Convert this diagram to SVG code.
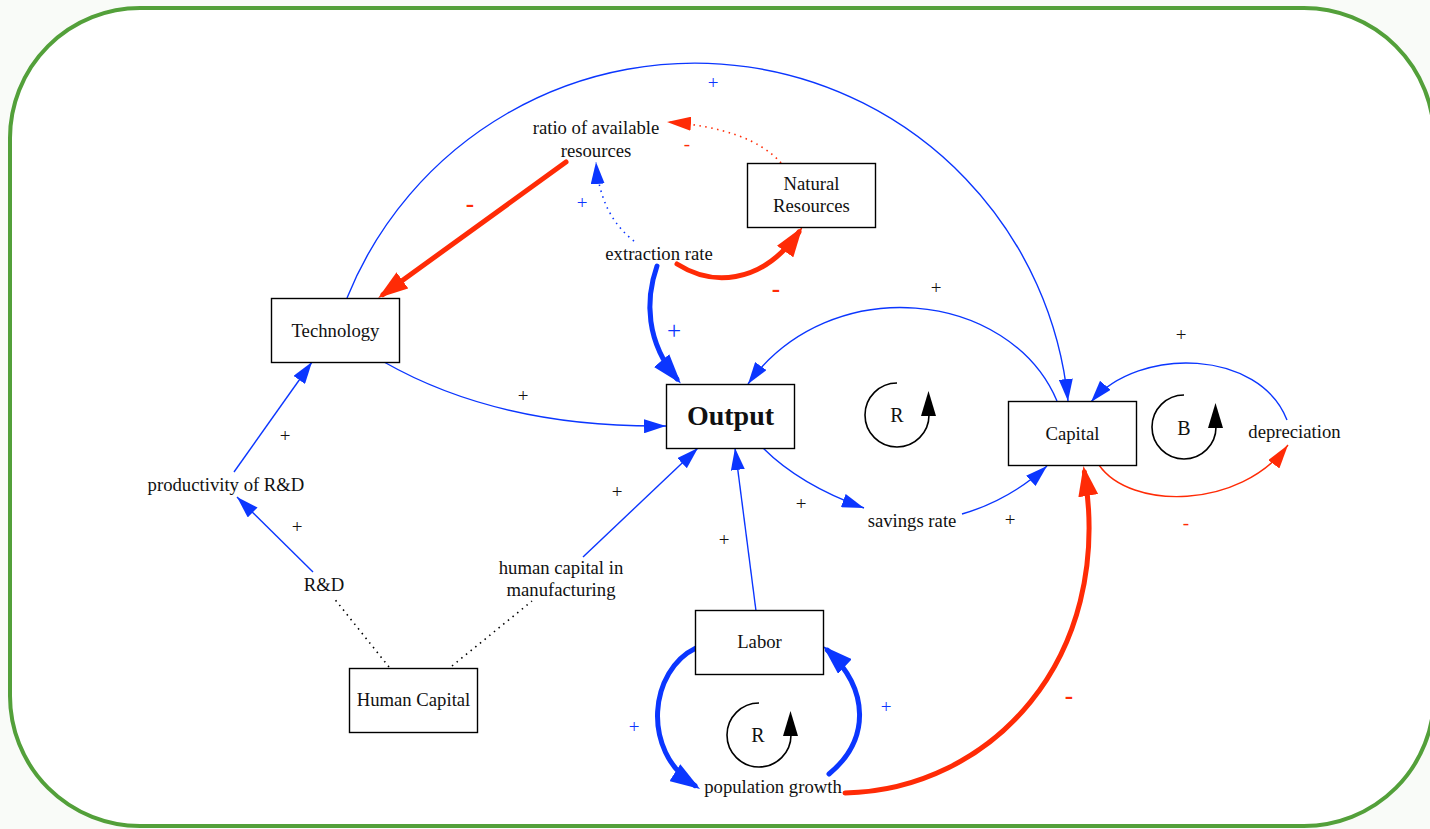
<svg xmlns="http://www.w3.org/2000/svg" width="1430" height="829" viewBox="0 0 1430 829">
<style>
  text { font-family: "Liberation Serif", "Times New Roman", serif; fill: #111; }
  .lbl { font-size: 18.7px; text-anchor: middle; }
  .box { fill: #fff; stroke: #000; stroke-width: 1.4; }
  .thin { fill: none; stroke: #0b36ff; stroke-width: 1.4; }
  .thinred { fill: none; stroke: #ff2b06; stroke-width: 1.4; }
  .thick { fill: none; stroke: #0b36ff; stroke-width: 5; stroke-linecap: round; }
  .thickred { fill: none; stroke: #ff2b06; stroke-width: 5; stroke-linecap: round; }
  .dotb { fill: none; stroke: #0b36ff; stroke-width: 1.6; stroke-dasharray: 1.5 4.5; }
  .dotr { fill: none; stroke: #ff2b06; stroke-width: 1.6; stroke-dasharray: 1.5 4.5; }
  .dotk { fill: none; stroke: #000; stroke-width: 1.6; stroke-dasharray: 1.5 4.5; }
  .pol { font-size: 19px; text-anchor: middle; }
  .pb { fill: #0b36ff; }
  .pr { fill: #ff2b06; }
  .big { font-size: 25px; }
  .loop { fill: none; stroke: #000; stroke-width: 1.6; }
  .loopt { font-size: 20px; text-anchor: middle; }
</style>
<defs>
  <marker id="aB" markerUnits="userSpaceOnUse" markerWidth="22" markerHeight="14" refX="22" refY="7" orient="auto">
    <path d="M0,0 L22,7 L0,14 z" fill="#0b36ff"/>
  </marker>
  <marker id="aR" markerUnits="userSpaceOnUse" markerWidth="24" markerHeight="14" refX="24" refY="7" orient="auto">
    <path d="M0,0 L24,7 L0,14 z" fill="#ff2b06"/>
  </marker>
  <marker id="aBB" markerUnits="userSpaceOnUse" markerWidth="30" markerHeight="20" refX="24" refY="10" orient="auto">
    <path d="M0,0 L30,10 L0,20 z" fill="#0b36ff"/>
  </marker>
  <marker id="aRB" markerUnits="userSpaceOnUse" markerWidth="30" markerHeight="20" refX="24" refY="10" orient="auto">
    <path d="M0,0 L30,10 L0,20 z" fill="#ff2b06"/>
  </marker>
</defs>

<rect x="0" y="0" width="1430" height="829" fill="#f9fbf8"/>
<rect id="frame" x="10" y="8" width="1424" height="818" rx="130" ry="130" fill="#fff" stroke="#53a03a" stroke-width="4"/>

<g id="connectors">
  <!-- Technology -> Capital -->
  <path class="thin" d="M347,298 A375,375 0 0,1 1068,401" marker-end="url(#aB)"/>
  <text class="pol pb" x="713" y="89">+</text>
  <!-- Technology -> Output -->
  <path class="thin" d="M384,362 Q500,428 666,426" marker-end="url(#aB)"/>
  <text class="pol" x="523" y="402">+</text>
  <!-- extraction rate -> Output -->
  <path class="thick" d="M657,266 C645,300 646,342 677,379" marker-end="url(#aBB)"/>
  <text class="pol pb big" x="674" y="339">+</text>
  <!-- extraction rate -> Natural Resources -->
  <path class="thickred" d="M677,264 C710,285 760,287 799,232" marker-end="url(#aRB)"/>
  <text class="pol pr big" x="776" y="297" font-weight="bold">-</text>
  <!-- ratio -> Technology -->
  <path class="thickred" d="M566,162 L383,294.5" marker-end="url(#aRB)"/>
  <text class="pol pr big" x="470" y="212" font-weight="bold">-</text>
  <!-- extraction rate -> ratio (dotted) -->
  <path class="dotb" d="M634,241 Q600,215 596,162" marker-end="url(#aB)"/>
  <text class="pol pb" x="582" y="209">+</text>
  <!-- Natural Resources -> ratio (dotted) -->
  <path class="dotr" d="M781,163 Q750,128 667,122" marker-end="url(#aR)"/>
  <text class="pol pr" x="687" y="150">-</text>
  <!-- Capital -> Output -->
  <path class="thin" d="M1057,401 C1010,290 830,270 748,384" marker-end="url(#aB)"/>
  <text class="pol" x="936" y="294">+</text>
  <!-- Output -> savings rate -->
  <path class="thin" d="M763,448 Q800,485 864,508" marker-end="url(#aB)"/>
  <text class="pol" x="801" y="510">+</text>
  <!-- savings rate -> Capital -->
  <path class="thin" d="M962,514 Q1010,500 1047,466" marker-end="url(#aB)"/>
  <text class="pol" x="1010" y="526">+</text>
  <!-- depreciation -> Capital -->
  <path class="thin" d="M1287,420 C1260,350 1140,345 1091,402" marker-end="url(#aB)"/>
  <text class="pol" x="1181" y="341">+</text>
  <!-- Capital -> depreciation -->
  <path class="thinred" d="M1099,465 C1130,510 1240,510 1288,445" marker-end="url(#aR)"/>
  <text class="pol pr" x="1186" y="529">-</text>
  <!-- population growth -> Capital -->
  <path class="thickred" d="M845,793 C990,790 1115,660 1084.4,472" marker-end="url(#aRB)"/>
  <text class="pol pr big" x="1069" y="704" font-weight="bold">-</text>
  <!-- Labor -> population growth -->
  <path class="thick" d="M696,648 C650,670 640,750 695,785.7" marker-end="url(#aBB)"/>
  <text class="pol pb" x="634" y="733">+</text>
  <!-- population growth -> Labor -->
  <path class="thick" d="M829,774 C870,740 870,690 827.4,650.1" marker-end="url(#aBB)"/>
  <text class="pol pb" x="886" y="713">+</text>
  <!-- Labor -> Output -->
  <path class="thin" d="M756,611 L735,448" marker-end="url(#aB)"/>
  <text class="pol" x="724" y="546">+</text>
  <!-- human capital in manufacturing -> Output -->
  <path class="thin" d="M583,557 L698,448" marker-end="url(#aB)"/>
  <text class="pol" x="617" y="498">+</text>
  <!-- R&D -> productivity of R&D -->
  <path class="thin" d="M313,572 L237,497" marker-end="url(#aB)"/>
  <text class="pol" x="297" y="533">+</text>
  <!-- productivity of R&D -> Technology -->
  <path class="thin" d="M234,472 L312,362" marker-end="url(#aB)"/>
  <text class="pol" x="285" y="442">+</text>
  <!-- Human Capital -> R&D / manufacturing (dotted) -->
  <path class="dotk" d="M389,667 L333,597"/>
  <path class="dotk" d="M452,666 L532,601"/>
</g>

<g id="loop-R1">
  <path class="loop" d="M897,383 A32,32 0 1,0 929,415"/>
  <path d="M928.5,391 L936,416 L921,416 z" fill="#000"/>
  <text class="loopt" x="897" y="422">R</text>
</g>
<g id="loop-B">
  <path class="loop" d="M1184,395 A32,32 0 1,0 1216,427"/>
  <path d="M1215.5,403 L1223,428 L1208,428 z" fill="#000"/>
  <text class="loopt" x="1184" y="435">B</text>
</g>
<g id="loop-R2">
  <path class="loop" d="M759,703 A32,32 0 1,0 791,735"/>
  <path d="M790.5,711 L798,736 L783,736 z" fill="#000"/>
  <text class="loopt" x="758" y="742">R</text>
</g>

<g id="node-technology">
  <rect class="box" x="271.5" y="298.5" width="128" height="64"/>
  <text class="lbl" x="335.5" y="336.5">Technology</text>
</g>
<g id="node-output">
  <rect class="box" x="666.5" y="384.5" width="128" height="64"/>
  <text x="730.5" y="425" font-size="28" font-weight="bold" text-anchor="middle">Output</text>
</g>
<g id="node-capital">
  <rect class="box" x="1008.5" y="401.5" width="128" height="64"/>
  <text class="lbl" x="1072.5" y="440">Capital</text>
</g>
<g id="node-natural-resources">
  <rect class="box" x="747.5" y="163.5" width="128" height="64"/>
  <text class="lbl" x="811.5" y="190">Natural</text>
  <text class="lbl" x="811.5" y="212">Resources</text>
</g>
<g id="node-labor">
  <rect class="box" x="695.5" y="610.5" width="128" height="64"/>
  <text class="lbl" x="759.5" y="648">Labor</text>
</g>
<g id="node-human-capital">
  <rect class="box" x="349.5" y="668.5" width="128" height="64"/>
  <text class="lbl" x="413.5" y="706">Human Capital</text>
</g>
<g id="node-ratio">
  <text class="lbl" x="596" y="134">ratio of available</text>
  <text class="lbl" x="596" y="157">resources</text>
</g>
<g id="node-extraction-rate">
  <text class="lbl" x="659" y="259.5">extraction rate</text>
</g>
<g id="node-productivity">
  <text class="lbl" x="226" y="491">productivity of R&amp;D</text>
</g>
<g id="node-rd">
  <text class="lbl" x="324" y="591">R&amp;D</text>
</g>
<g id="node-hc-manufacturing">
  <text class="lbl" x="561" y="574">human capital in</text>
  <text class="lbl" x="561" y="596">manufacturing</text>
</g>
<g id="node-savings-rate">
  <text class="lbl" x="912" y="527">savings rate</text>
</g>
<g id="node-depreciation">
  <text class="lbl" x="1294.5" y="438">depreciation</text>
</g>
<g id="node-population-growth">
  <text class="lbl" x="773" y="793">population growth</text>
</g>
</svg>
